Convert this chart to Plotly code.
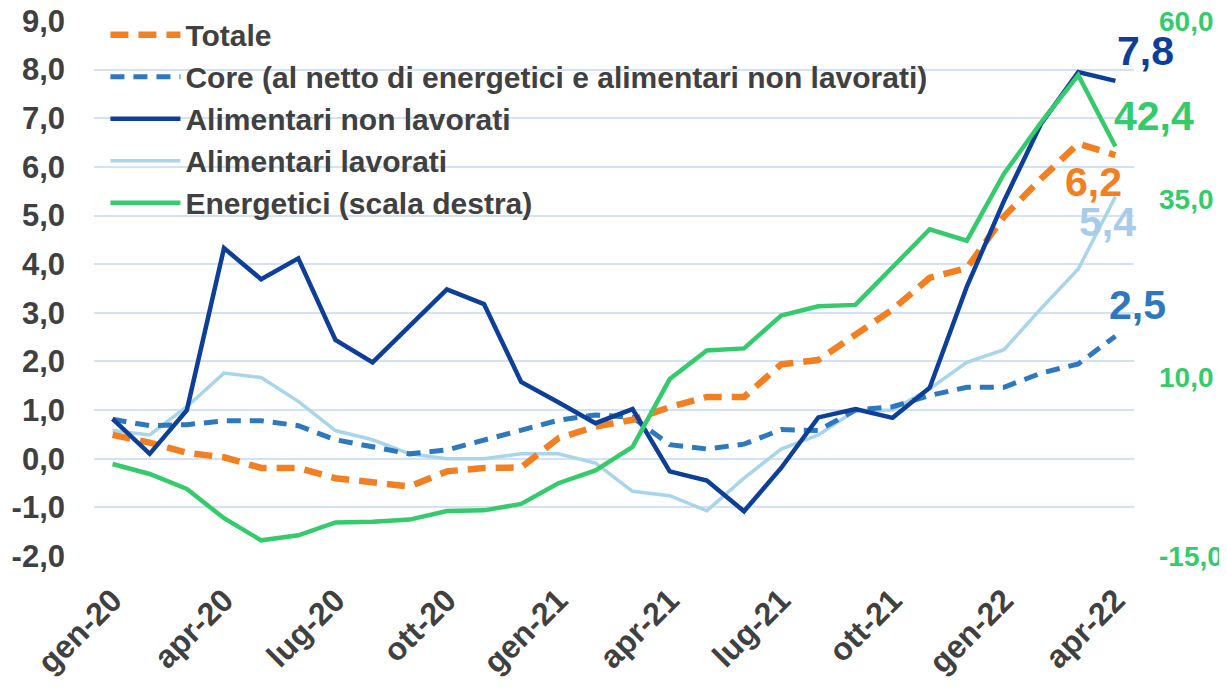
import plotly.graph_objects as go

months = ["gen","feb","mar","apr","mag","giu","lug","ago","set","ott","nov","dic"]
categories = [f"{m}-{y}" for y in ["20", "21"] for m in months] + ["gen-22", "feb-22", "mar-22", "apr-22"]
tick_labels = ["gen-20","apr-20","lug-20","ott-20","gen-21","apr-21","lug-21","ott-21","gen-22","apr-22"]

totale = [0.49,0.33,0.12,0.03,-0.19,-0.19,-0.40,-0.50,-0.57,-0.26,-0.19,-0.18,0.42,0.66,0.80,1.06,1.27,1.27,1.94,2.03,2.57,3.07,3.72,3.92,4.98,5.76,6.48,6.24]
core = [0.81,0.68,0.70,0.78,0.78,0.68,0.39,0.25,0.10,0.18,0.39,0.58,0.79,0.90,0.85,0.29,0.20,0.30,0.60,0.58,1.00,1.07,1.30,1.47,1.47,1.76,1.95,2.52]
alim_non_lav = [0.82,0.10,1.00,4.33,3.69,4.12,2.44,1.98,2.73,3.48,3.18,1.58,1.16,0.73,1.02,-0.26,-0.45,-1.08,-0.19,0.85,1.02,0.84,1.46,3.54,5.30,6.89,7.95,7.77]
alim_lav = [0.58,0.49,1.07,1.76,1.67,1.18,0.58,0.39,0.10,0.00,0.00,0.10,0.10,-0.09,-0.67,-0.76,-1.07,-0.40,0.20,0.49,0.99,1.00,1.44,1.98,2.24,3.09,3.90,5.39]
energetici = [-2.1,-3.5,-5.6,-9.7,-12.8,-12.1,-10.3,-10.2,-9.9,-8.7,-8.6,-7.7,-4.8,-3.0,0.3,9.8,13.8,14.1,18.7,20.0,20.2,25.4,30.8,29.2,38.6,45.8,52.4,42.4]

left_ticks = list(range(-2, 10))
right_ticks = [-15, 10, 35, 60]

C_TOT = "#F28022"
C_CORE = "#2E78BE"
C_ANL = "#0D3F99"
C_AL = "#A9D5EA"
C_EN = "#35CB6C"
C_TXT = "#404040"
FONT = "Liberation Sans, Arial, sans-serif"


def fmt(v):
    return f"{v:.1f}".replace(".", ",")


fig = go.Figure()
fig.add_trace(go.Scatter(x=categories, y=energetici, name="Energetici (scala destra)", yaxis="y2",
                         mode="lines", line=dict(color=C_EN, width=4.5), legendrank=5))
fig.add_trace(go.Scatter(x=categories, y=alim_lav, name="Alimentari lavorati",
                         mode="lines", line=dict(color=C_AL, width=3.5), legendrank=4))
fig.add_trace(go.Scatter(x=categories, y=core, name="Core (al netto di energetici e alimentari non lavorati)",
                         mode="lines", line=dict(color=C_CORE, width=5, dash="14px,9px"), legendrank=2))
fig.add_trace(go.Scatter(x=categories, y=totale, name="Totale",
                         mode="lines", line=dict(color=C_TOT, width=6.5, dash="18px,10px"), legendrank=1))
fig.add_trace(go.Scatter(x=categories, y=alim_non_lav, name="Alimentari non lavorati",
                         mode="lines", line=dict(color=C_ANL, width=4.5), legendrank=3))

last = categories[-1]
ann = [
    (alim_non_lav[-1], "y", C_ANL, "left", 0, 30),
    (energetici[-1], "y2", C_EN, "left", -3, 31),
    (totale[-1], "y", C_TOT, "right", 9, -27),
    (alim_lav[-1], "y", "#A8CBEA", "center", -8, -25),
    (core[-1], "y", C_CORE, "left", -8, 31),
]
for v, yref, col, xa, xs, ys in ann:
    fig.add_annotation(x=last, y=v, yref=yref, xref="x", text=fmt(v), showarrow=False,
                       xanchor=xa, yanchor="middle", xshift=xs, yshift=ys,
                       font=dict(family=FONT, size=41, color=col, weight="bold"))

# the page body adds an 8px margin: compensate so the plot area lands where it should
fig.update_layout(
    width=1219, height=681,
    margin=dict(l=86, r=93, t=13, b=133, autoexpand=False),
    paper_bgcolor="white", plot_bgcolor="white",
    showlegend=True,
    legend=dict(x=0.011, y=1.023, xanchor="left", yanchor="top", bgcolor="rgba(0,0,0,0)",
                font=dict(family=FONT, size=30, color=C_TXT, weight="bold"),
                itemwidth=70, tracegroupgap=0, traceorder="normal"),
    xaxis=dict(type="category", range=[-0.5, len(categories) - 0.5], automargin=False,
               tickmode="array", tickvals=tick_labels, ticktext=tick_labels,
               tickangle=-45, showgrid=False, zeroline=False, showline=False, ticks="",
               ticklabelstandoff=18, ticklabeloverflow="allow",
               tickfont=dict(family=FONT, size=32, color=C_TXT, weight="bold")),
    yaxis=dict(range=[-2, 9], tickmode="array", tickvals=left_ticks,
               ticktext=[fmt(v) for v in left_ticks], automargin=False,
               showgrid=True, gridcolor="#D3E2F7", gridwidth=2, zeroline=False, showline=False,
               ticks="", ticklabelstandoff=28, ticklabeloverflow="allow",
               tickfont=dict(family=FONT, size=31, color=C_TXT, weight="bold")),
    yaxis2=dict(range=[-15, 60], overlaying="y", side="right", tickmode="array",
                tickvals=right_ticks, ticktext=[fmt(v) for v in right_ticks], automargin=False,
                showgrid=False, zeroline=False,
                showline=False, ticks="", ticklabelstandoff=24, ticklabeloverflow="allow",
                tickfont=dict(family=FONT, size=28, color=C_EN, weight="bold")),
)

fig.write_html("out.html")
